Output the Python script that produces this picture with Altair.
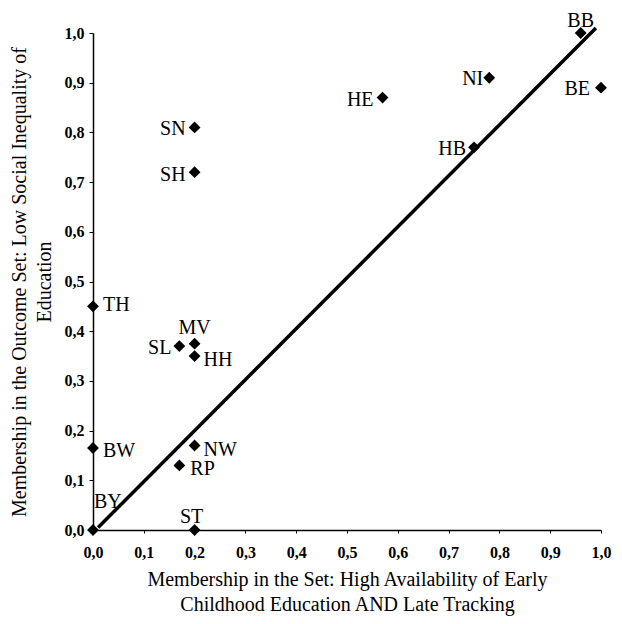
import altair as alt
import pandas as pd

names = ["BB", "BE", "NI", "HE", "HB", "SN", "SH", "TH", "MV", "SL", "HH", "NW", "RP", "BW", "BY", "ST"]
x_vals = [0.96, 1.00, 0.78, 0.57, 0.75, 0.20, 0.20, 0.00, 0.20, 0.17, 0.20, 0.20, 0.17, 0.00, 0.00, 0.20]
y_vals = [1.00, 0.89, 0.91, 0.87, 0.77, 0.81, 0.72, 0.45, 0.375, 0.37, 0.35, 0.17, 0.13, 0.165, 0.00, 0.00]

diag_x = [0.01, 0.99]
diag_y = [0.005, 1.01]

tick_values = [0.0, 0.1, 0.2, 0.3, 0.4, 0.5, 0.6, 0.7, 0.8, 0.9, 1.0]
x_title = ["Membership in the Set: High Availability of Early", "Childhood Education AND Late Tracking"]
y_title = ["Membership in the Outcome Set: Low Social Inequality of", "Education"]

# label placement around each diamond: (align, dx, dy)
label_place = {
    "BB": ("center", 0, -6), "BE": ("right", -11, 7), "NI": ("right", -6, 7),
    "HE": ("right", -9, 8), "HB": ("right", -8, 8), "SN": ("right", -9, 8),
    "SH": ("right", -9, 9), "SL": ("right", -8, 8), "MV": ("center", 0, -10),
    "TH": ("left", 10, 5), "HH": ("left", 9, 10), "BW": ("left", 10, 9),
    "NW": ("left", 9, 10), "RP": ("left", 11, 10), "BY": ("left", 1, -22),
    "ST": ("center", -3, -7),
}

df = pd.DataFrame({"name": names, "x": x_vals, "y": y_vals})
diag = pd.DataFrame({"x": diag_x, "y": diag_y})

FONT = "Liberation Serif"
label_expr = "replace(format(datum.value, '.1f'), '.', ',')"

xs = alt.Scale(domain=[0, 1], nice=False, zero=False)
ys = alt.Scale(domain=[0, 1], nice=False, zero=False)

common_axis = dict(values=tick_values, labelExpr=label_expr, grid=False,
                   domainColor="black", domainWidth=1.5, tickColor="black", tickWidth=1,
                   labelFont=FONT, labelFontSize=16, labelFontWeight="bold", labelColor="black",
                   titleFont=FONT, titleFontSize=20, titleFontWeight="normal",
                   titleColor="black", titleLineHeight=25, labelFlush=False)
x_axis = alt.Axis(title=x_title, tickSize=3, labelPadding=11, titlePadding=9, **common_axis)
y_axis = alt.Axis(title=y_title, tickSize=4, labelPadding=5, titlePadding=10, **common_axis)

line = alt.Chart(diag).mark_line(color="black", strokeWidth=3.5, clip=False).encode(
    x=alt.X("x:Q", scale=xs, axis=x_axis),
    y=alt.Y("y:Q", scale=ys, axis=y_axis),
)

points = alt.Chart(df).mark_point(shape="diamond", filled=True, color="black", size=140,
                                  opacity=1, clip=False).encode(
    x=alt.X("x:Q", scale=xs),
    y=alt.Y("y:Q", scale=ys),
)


def label(name):
    align, dx, dy = label_place[name]
    return alt.Chart(df).transform_filter(
        alt.datum.name == name
    ).mark_text(font=FONT, fontSize=20, color="black", baseline="alphabetic",
                align=align, dx=dx, dy=dy).encode(
        x=alt.X("x:Q", scale=xs),
        y=alt.Y("y:Q", scale=ys),
        text="name:N",
    )


layers = [line, points] + [label(n) for n in names]

chart = alt.layer(*layers).properties(
    width=508, height=497,
    autosize=alt.AutoSizeParams(type="none"),
    padding={"left": 85, "top": 25, "right": 13, "bottom": 86},
    background="white",
).configure_view(stroke=None)

chart.save("out.html", embed_options={"renderer": "svg", "actions": False})
